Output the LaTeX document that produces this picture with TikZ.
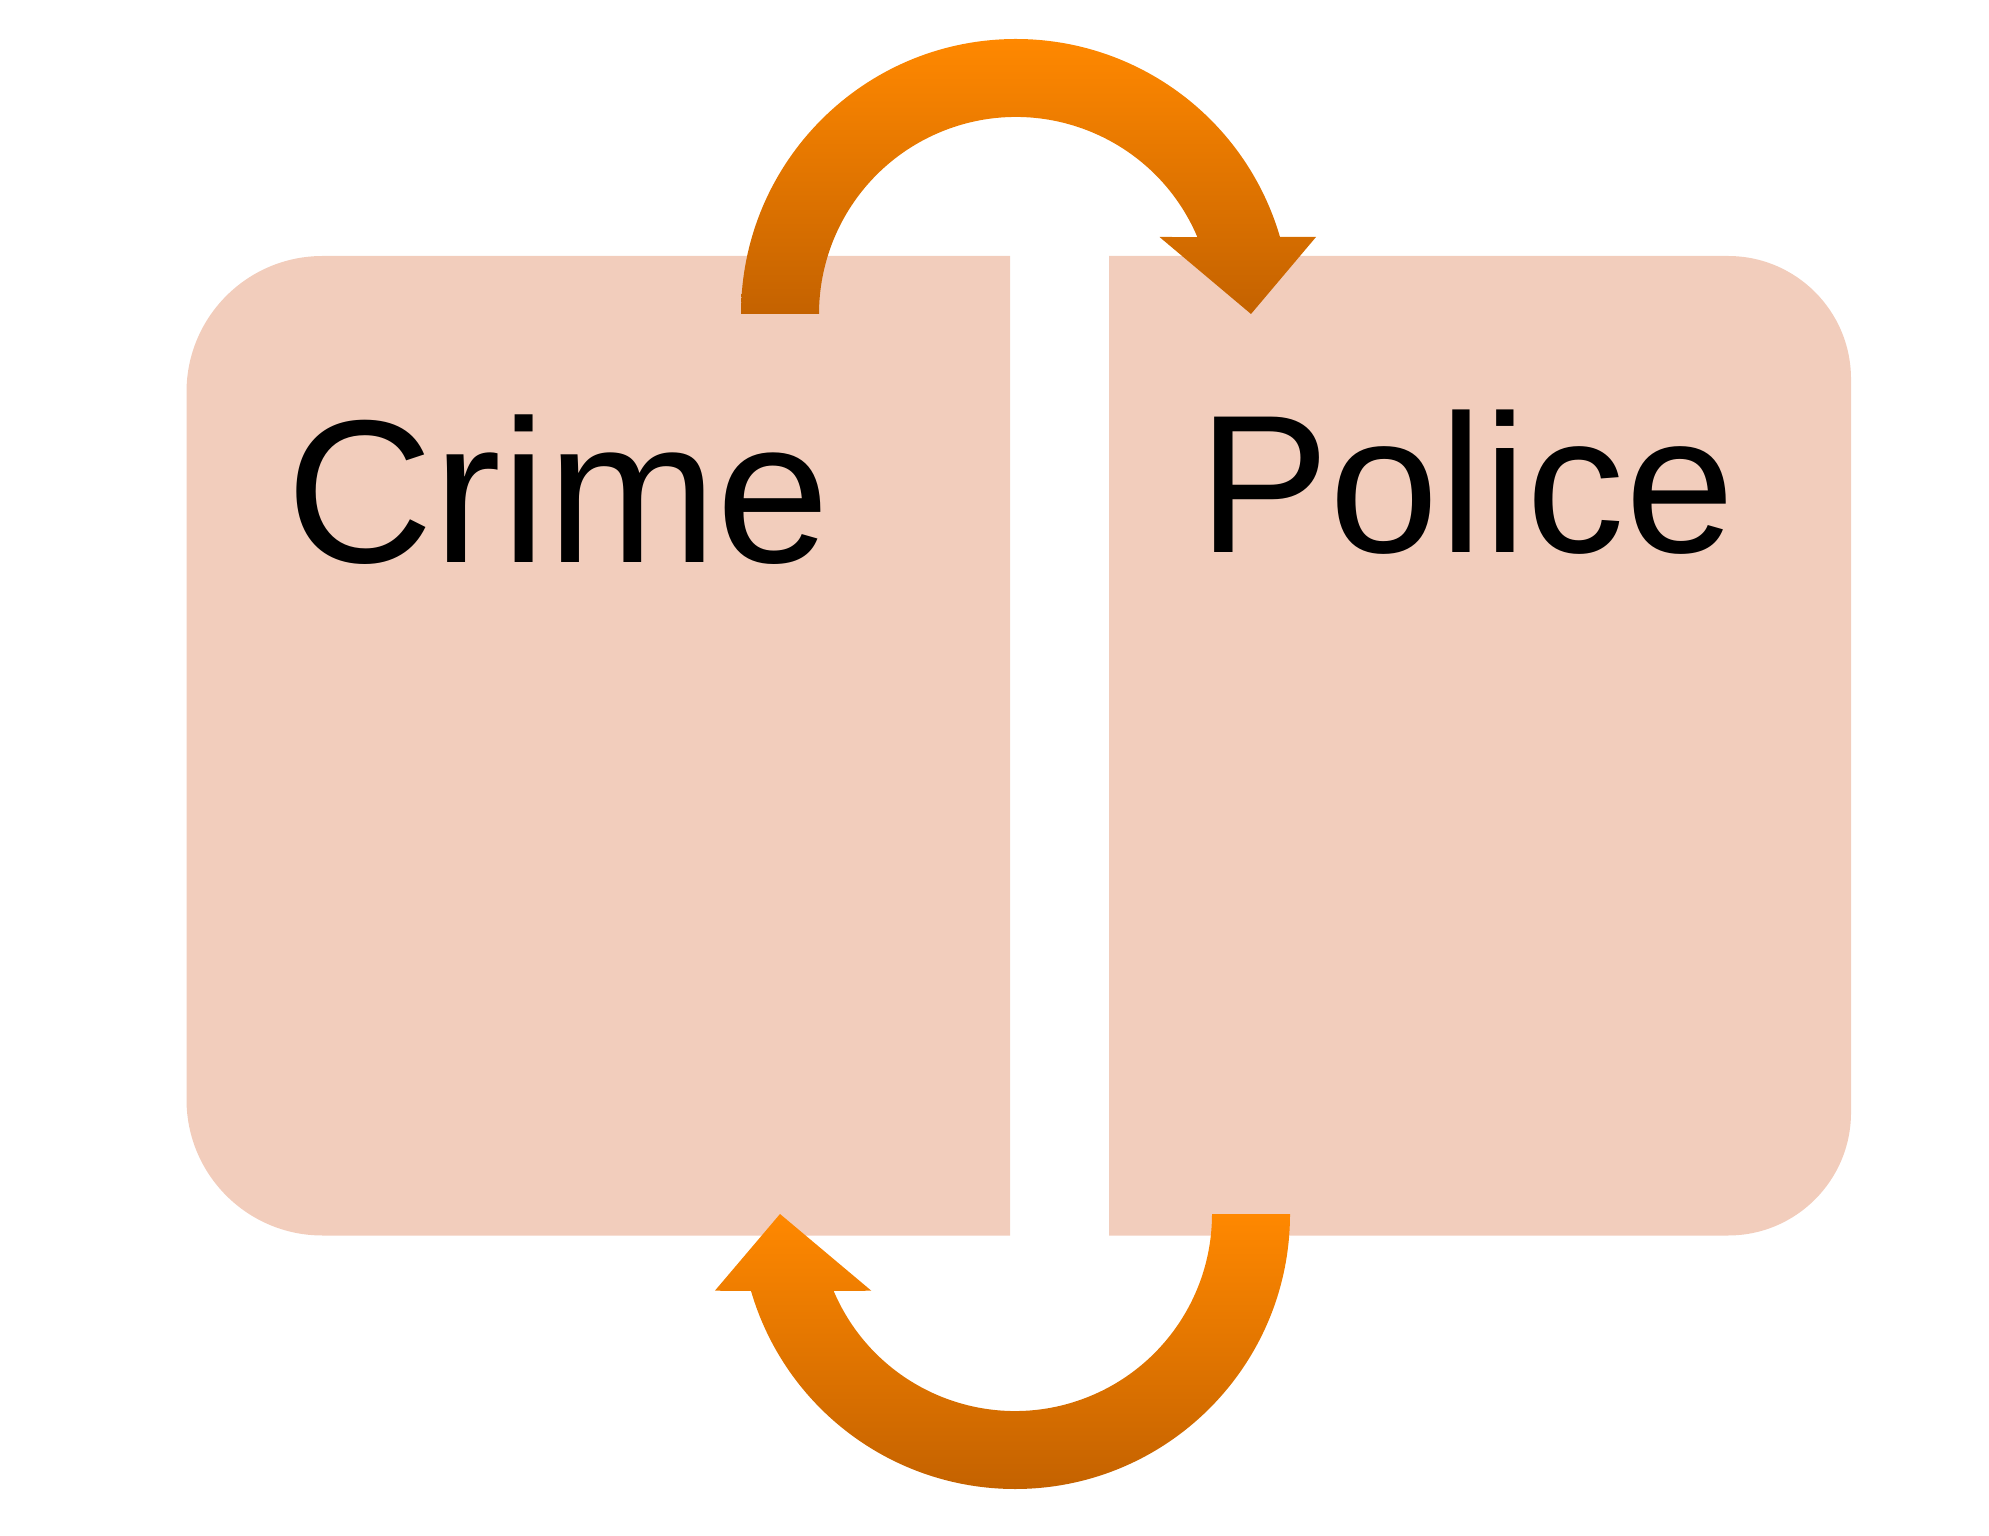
\documentclass[tikz,border=0pt]{standalone}
\usepackage{fontspec}
\setmainfont{Liberation Sans}
\usetikzlibrary{positioning, calc}
\definecolor{clrbox}{HTML}{F2CDBC}
\definecolor{clrarrowtop}{HTML}{FF8800}
\definecolor{clrarrowbottom}{HTML}{C46200}
\definecolor{clrtext}{HTML}{000000}

\begin{document}
\begin{tikzpicture}[
    box/.style={fill=clrbox},
    cyclearrow/.style={top color=clrarrowtop, bottom color=clrarrowbottom, draw=none},
    title/.style={font=\fontsize{56}{60}\selectfont, text=clrtext, inner sep=0pt, anchor=base west},
]
\useasboundingbox (0,0) rectangle (19.89,15.35);
% boxes
\fill[box] (10.10,2.995) -- (10.10,12.79) -- (3.225,12.79) arc[start angle=90, end angle=180, radius=1.36] -- (1.865,4.355) arc[start angle=180, end angle=270, radius=1.36] -- cycle;
\fill[box] (11.09,12.79) -- (17.28,12.79) arc[start angle=90, end angle=0, radius=1.23] -- (18.51,4.225) arc[start angle=0, end angle=-90, radius=1.23] -- (11.09,2.995) -- cycle;
% arrows
\coordinate (top_c) at (10.16,12.21);
\coordinate (bot_c) at (10.15,3.21);
\shade[cyclearrow] ($(top_c)+(180:2.75)$) arc[start angle=180, end angle=16.26, radius=2.75] -- (13.16,12.98) -- (12.51,12.21) -- (11.595,12.98) -- ($(top_c)+(23.0:1.97)$) arc[start angle=23.0, end angle=180, radius=1.97] -- cycle;
\shade[cyclearrow] ($(bot_c)+(0:2.75)$) arc[start angle=0, end angle=-163.74, radius=2.75] -- (7.149,2.443) -- (7.80,3.21) -- (8.713,2.443) -- ($(bot_c)+(-157.0:1.97)$) arc[start angle=-157.0, end angle=0, radius=1.97] -- cycle;
% labels
\node[title, font=\fontsize{58}{62}\selectfont] (crime) at (2.86,9.723) {Crime};
\node[title] (police) at (11.98,9.82) {Police};
\end{tikzpicture}
\end{document}
